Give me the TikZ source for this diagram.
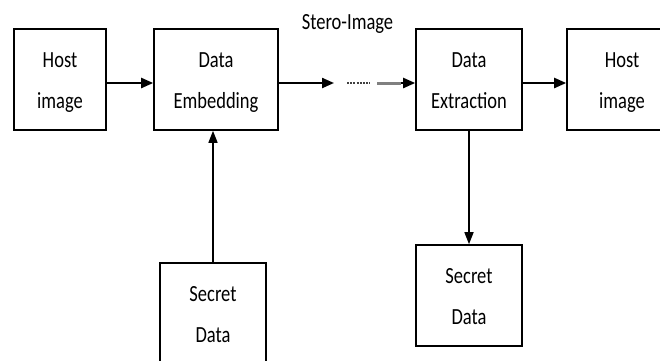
\documentclass[tikz,border=0pt]{standalone}
\usepackage{fontspec}
\setmainfont{Carlito}
\usepackage{graphicx}
\usetikzlibrary{arrows.meta}
\newcommand{\twoline}[2]{\scalebox{1}[1.25]{\fontsize{18.5}{32.8}\selectfont\begin{tabular}{@{}c@{}}#1\\#2\end{tabular}}}
\tikzset{
  blk/.style={draw=black, line width=1.6pt, minimum height=101pt, inner sep=0pt, fill=white},
  arr/.style={-{Triangle[length=12pt,width=10pt]}, line width=2.2pt},
  varr/.style={-{Triangle[length=12pt,width=9pt]}, line width=1.5pt},
}
\begin{document}
\begin{tikzpicture}[x=1pt,y=-1pt]
\clip (0,0) rectangle (660,360);
\fill[white] (0,0) rectangle (660,360);
\node[blk, minimum width=92pt] (h1) at (60,79.5) {\twoline{Host}{image}};
\node[blk, minimum width=124pt] (emb) at (216,79.5) {\twoline{Data}{Embedding}};
\node[blk, minimum width=106pt] (ext) at (469,79.5) {\twoline{Data}{Extraction}};
\node[blk, minimum width=110pt] (h2) at (622,79.5) {\twoline{Host}{image}};
\node[blk, minimum width=106pt] (sd1) at (213,313.5) {\twoline{Secret}{Data}};
\node[blk, minimum width=106pt] (sd2) at (469,295.5) {\twoline{Secret}{Data}};
\node (st) at (347.5,24) {\scalebox{1}[1.25]{\fontsize{18.5}{22}\selectfont Stero-Image}};
\coordinate (c1) at (334,83);
\coordinate (c2) at (347,83);
\coordinate (c3) at (370,83);
\coordinate (c4) at (377,83);
\coordinate (c5) at (401,83);
\draw[arr] (h1.east |- c1) -- (emb.west |- c1);
\draw[arr] (emb.east |- c1) -- (c1);
\draw[line width=2.2pt, dash pattern=on 2pt off 1.2pt, black!75] (c2) -- (c3);
\draw[line width=3pt, black!50] (c4) -- (c5);
\draw[arr] (c5) -- (ext.west |- c4);
\draw[arr] (ext.east |- c1) -- (h2.west |- c1);
\draw[varr] (sd1.north) -- (emb.south -| sd1.north);
\draw[varr] (ext.south) -- (sd2.north);
\end{tikzpicture}
\end{document}
